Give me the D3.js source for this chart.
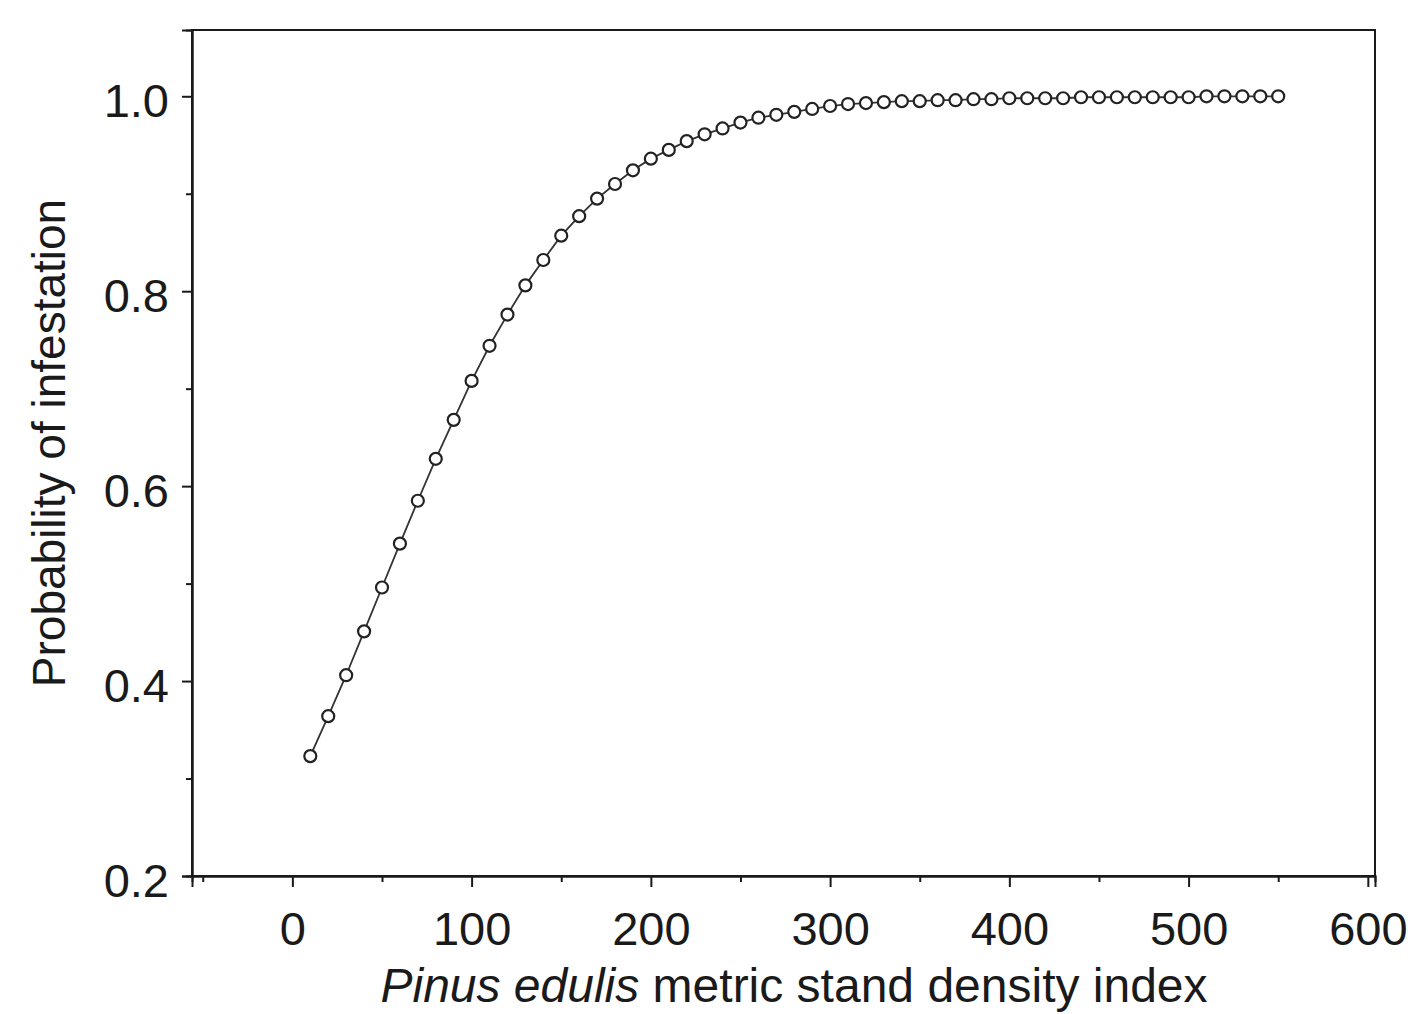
<!DOCTYPE html>
<html>
<head>
<meta charset="utf-8">
<script src="https://cdn.jsdelivr.net/npm/d3@7"></script>
<style>
  body { margin: 0; background: #fff; }
  svg { display: block; font-family: "Liberation Sans", Arial, sans-serif; }
</style>
</head>
<body>
<div id="chart"></div>
<script>
// stand density index (x) and fitted probability (y)
const sdi = [10, 20, 30, 40, 50, 60, 70, 80, 90, 100,
  110, 120, 130, 140, 150, 160, 170, 180, 190, 200,
  210, 220, 230, 240, 250, 260, 270, 280, 290, 300,
  310, 320, 330, 340, 350, 360, 370, 380, 390, 400,
  410, 420, 430, 440, 450, 460, 470, 480, 490, 500,
  510, 520, 530, 540, 550];
const prob = [0.323, 0.364, 0.406, 0.451, 0.496, 0.541, 0.585, 0.628, 0.668, 0.708,
  0.744, 0.776, 0.806, 0.832, 0.857, 0.877, 0.895, 0.910, 0.924, 0.936,
  0.945, 0.954, 0.961, 0.967, 0.973, 0.978, 0.981, 0.984, 0.987, 0.990,
  0.992, 0.993, 0.994, 0.995, 0.995, 0.996, 0.996, 0.997, 0.997, 0.998,
  0.998, 0.998, 0.998, 0.999, 0.999, 0.999, 0.999, 0.999, 0.999, 0.999,
  1.000, 1.000, 1.000, 1.000, 1.000];
const xTicks = [0, 100, 200, 300, 400, 500, 600];
const xMinor = [-50, 50, 150, 250, 350, 450, 550];
const yTicks = [0.2, 0.4, 0.6, 0.8, 1.0];
const yMinor = [0.3, 0.5, 0.7, 0.9];

const width = 1423, height = 1014;
const margin = { top: 30, right: 48, bottom: 138, left: 192 };

const svg = d3.select("#chart").append("svg")
  .attr("width", width)
  .attr("height", height);

const x = d3.scaleLinear().domain([-56, 604]).range([margin.left, width - margin.right]);
const y = d3.scaleLinear().domain([0.2, 1.068]).range([height - margin.bottom, margin.top]);

const ink = "#1a1a1a";

// frame
svg.append("rect")
  .attr("x", margin.left)
  .attr("y", margin.top)
  .attr("width", width - margin.left - margin.right)
  .attr("height", height - margin.top - margin.bottom)
  .attr("fill", "none")
  .attr("stroke", ink)
  .attr("stroke-width", 2);

const fmtX = d3.format("d");
const fmtY = d3.format(".1f");

const xAxis = svg.append("g")
  .attr("transform", `translate(0,${height - margin.bottom})`)
  .call(d3.axisBottom(x).tickValues(xTicks).tickFormat(fmtX).tickSize(11).tickPadding(25));
const xAxisMinor = svg.append("g")
  .attr("transform", `translate(0,${height - margin.bottom})`)
  .call(d3.axisBottom(x).tickValues(xMinor).tickFormat("").tickSize(6));

const yAxis = svg.append("g")
  .attr("transform", `translate(${margin.left},0)`)
  .call(d3.axisLeft(y).tickValues(yTicks).tickFormat(fmtY).tickSize(10).tickPadding(13));
const yAxisMinor = svg.append("g")
  .attr("transform", `translate(${margin.left},0)`)
  .call(d3.axisLeft(y).tickValues(yMinor).tickFormat("").tickSize(6));

[xAxis, xAxisMinor, yAxis, yAxisMinor].forEach((g) => {
  g.select(".domain").attr("stroke", ink).attr("stroke-width", 2);
  g.selectAll(".tick line").attr("stroke", ink).attr("stroke-width", 2);
  g.selectAll(".tick text")
    .attr("fill", ink)
    .style("font-size", "47px")
    .style("font-family", '"Liberation Sans", Arial, sans-serif');
});
yAxis.selectAll(".tick text").attr("dy", "0.43em");

// curve + markers
const pts = sdi.map((d, i) => [d, prob[i]]);

svg.append("path")
  .datum(pts)
  .attr("fill", "none")
  .attr("stroke", "#333")
  .attr("stroke-width", 1.8)
  .attr("d", d3.line().x((d) => x(d[0])).y((d) => y(d[1])));

svg.append("g")
  .selectAll("circle")
  .data(pts)
  .join("circle")
  .attr("cx", (d) => x(d[0]))
  .attr("cy", (d) => y(d[1]))
  .attr("r", 6)
  .attr("fill", "#fff")
  .attr("stroke", "#222")
  .attr("stroke-width", 2.2);

// axis titles
const xTitle = svg.append("text")
  .attr("x", 794)
  .attr("y", 1002)
  .attr("text-anchor", "middle")
  .attr("fill", ink)
  .style("font-size", "48px");
xTitle.append("tspan").style("font-style", "italic").text("Pinus edulis");
xTitle.append("tspan").text(" metric stand density index");

svg.append("text")
  .attr("transform", `translate(65,443) rotate(-90)`)
  .attr("text-anchor", "middle")
  .attr("fill", ink)
  .style("font-size", "46px")
  .text("Probability of infestation");
</script>
</body>
</html>
